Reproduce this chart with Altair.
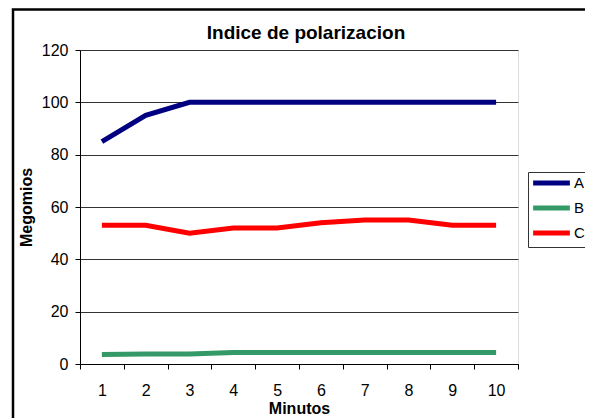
import altair as alt
import pandas as pd

# ---- data ----
minutos = [1, 2, 3, 4, 5, 6, 7, 8, 9, 10]
serie_a = [85, 95, 100, 100, 100, 100, 100, 100, 100, 100]
serie_b = [3.6, 3.8, 3.8, 4.4, 4.4, 4.4, 4.4, 4.4, 4.4, 4.4]
serie_c = [53, 53, 50, 52, 52, 54, 55, 55, 53, 53]
series = ["A", "B", "C"]
colores = ["#000080", "#339966", "#FF0000"]
y_ticks = [0, 20, 40, 60, 80, 100, 120]
titulo = "Indice de polarizacion"

rows = []
for name, vals in zip(series, [serie_a, serie_b, serie_c]):
    for m, v in zip(minutos, vals):
        rows.append({"Minutos": m, "Megomios": v, "Serie": name})
df = pd.DataFrame(rows)

FONT = "Liberation Sans"
W, H = 438, 314

x_enc = alt.X(
    "Minutos:O",
    scale=alt.Scale(type="band", paddingInner=0, paddingOuter=0),
    axis=alt.Axis(
        title="Minutos", labelAngle=0, tickBand="extent", tickSize=5,
        tickColor="black", domainColor="black", labelColor="black",
        labelFontSize=16, labelFont=FONT, labelPadding=13,
        titleFont=FONT, titleFontSize=16, titleFontWeight="bold",
        titleColor="black", titleY=49, titleBaseline="alphabetic", grid=False,
    ),
)
y_enc = alt.Y(
    "Megomios:Q",
    scale=alt.Scale(domain=[0, 120], nice=False),
    axis=alt.Axis(
        values=y_ticks, title="Megomios", tickSize=5, tickColor="black",
        domainColor="black", labelColor="black", labelFontSize=16, labelFont=FONT,
        labelPadding=7, gridColor="#333333", gridWidth=1,
        titleFont=FONT, titleFontSize=16, titleFontWeight="bold", titleColor="black",
        titleX=-54, titleY=157, titleAngle=270, titleAlign="center", titleBaseline="middle",
    ),
)

lines = alt.Chart(df).mark_line(strokeWidth=5).encode(
    x=x_enc,
    y=y_enc,
    color=alt.Color(
        "Serie:N",
        scale=alt.Scale(domain=series, range=colores),
        legend=alt.Legend(
            title=None, orient="none", legendX=462.5, legendY=124,
            symbolType="M-3,0H3", symbolSize=150, symbolStrokeWidth=5,
            labelFontSize=15, labelFont=FONT, labelColor="black",
            padding=0, rowPadding=5, labelOffset=13.5,
        ),
    ),
    order=alt.Order("Minutos:O"),
)

border = alt.Chart(alt.Data(values=[{"k": 1}])).mark_rect(
    filled=False, stroke="black", strokeWidth=2.5
).encode(
    x=alt.value(-67), x2=alt.value(700), y=alt.value(-40.5), y2=alt.value(600)
)

legend_box = alt.Chart(alt.Data(values=[{"k": 1}])).mark_rect(
    fill="white", stroke="#333333", strokeWidth=1
).encode(
    x=alt.value(448.5), x2=alt.value(512.5), y=alt.value(122.5), y2=alt.value(197.5)
)

title = alt.Chart(alt.Data(values=[{"t": titulo}])).mark_text(
    font=FONT, fontSize=19, fontWeight="bold", color="black",
    align="center", baseline="alphabetic",
).encode(text="t:N", x=alt.value(226), y=alt.value(-11))

chart = alt.layer(border, legend_box, title, lines).properties(
    width=W,
    height=H,
    padding={"left": 72, "top": 42, "right": 67, "bottom": 54},
    autosize=alt.AutoSizeParams(type="none"),
).configure_view(
    stroke="#808080", strokeWidth=1.5
).configure(background="white")

chart.save("out.html", embed_options={"renderer": "svg", "actions": False})
